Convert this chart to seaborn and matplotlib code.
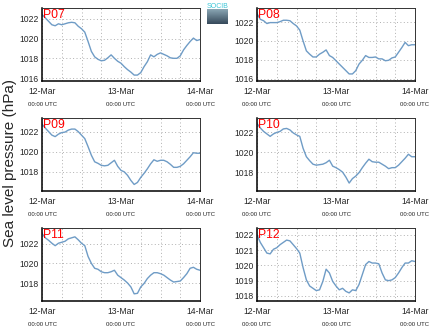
import numpy as np
import pandas as pd
import matplotlib
matplotlib.use("Agg")
import matplotlib.pyplot as plt
import matplotlib.dates as mdates
from matplotlib.ticker import MultipleLocator
import seaborn as sns

# ---- data (hourly sea level pressure, hPa) ----
times = pd.date_range("2013-03-12 00:00", "2013-03-14 00:00", freq="1h")

stations = ["P07", "P08", "P09", "P10", "P11", "P12"]

p07 = [1022.45, 1022.1, 1021.75, 1021.4, 1021.3, 1021.5, 1021.4, 1021.5, 1021.6, 1021.65,
       1021.6, 1021.25, 1021.0, 1020.65, 1019.7, 1018.7, 1018.15, 1017.9, 1017.75, 1017.8,
       1018.05, 1018.35, 1018.0, 1017.7, 1017.5, 1017.15, 1016.85, 1016.6, 1016.3, 1016.3,
       1016.55, 1017.15, 1017.65, 1018.35, 1018.15, 1018.4, 1018.55, 1018.4, 1018.25, 1018.05,
       1018.0, 1018.0, 1018.25, 1018.85, 1019.3, 1019.7, 1020.05, 1019.8, 1019.9]
p08 = [1022.9, 1022.3, 1022.15, 1021.85, 1021.95, 1021.95, 1021.95, 1022.05, 1022.2, 1022.2,
       1022.15, 1021.85, 1021.6, 1021.15, 1020.0, 1018.95, 1018.6, 1018.3, 1018.3, 1018.6,
       1018.8, 1019.05, 1018.45, 1018.25, 1017.9, 1017.55, 1017.2, 1016.85, 1016.5, 1016.5,
       1016.85, 1017.55, 1017.95, 1018.45, 1018.25, 1018.25, 1018.3, 1018.1, 1018.1, 1017.9,
       1017.95, 1018.2, 1018.3, 1018.8, 1019.3, 1019.85, 1019.5, 1019.6, 1019.6]
p09 = [1022.75, 1022.35, 1022.0, 1021.65, 1021.5, 1021.75, 1021.9, 1021.95, 1022.15, 1022.25,
       1022.25, 1022.0, 1021.65, 1021.3, 1020.5, 1019.65, 1019.0, 1018.85, 1018.65, 1018.6,
       1018.65, 1018.9, 1019.15, 1018.55, 1018.15, 1018.0, 1017.65, 1017.15, 1016.75, 1016.95,
       1017.45, 1017.85, 1018.3, 1018.8, 1019.2, 1019.05, 1019.15, 1019.15, 1019.0, 1018.75,
       1018.45, 1018.45, 1018.55, 1018.8, 1019.15, 1019.5, 1019.9, 1019.85, 1019.85]
p10 = [1022.9, 1022.45, 1022.1, 1021.85, 1021.6, 1021.85, 1022.0, 1022.1, 1022.35, 1022.4,
       1022.25, 1021.95, 1021.75, 1021.6, 1020.4, 1019.55, 1019.15, 1018.8, 1018.7, 1018.75,
       1018.8, 1018.95, 1019.2, 1018.6, 1018.45, 1018.25, 1018.0, 1017.5, 1016.9, 1017.35,
       1017.6, 1017.95, 1018.45, 1018.9, 1019.3, 1019.05, 1019.0, 1019.0, 1018.8, 1018.6,
       1018.35, 1018.45, 1018.45, 1018.7, 1019.05, 1019.4, 1019.8, 1019.55, 1019.55]
p11 = [1023.05, 1022.6, 1022.35, 1022.05, 1021.8, 1022.05, 1022.15, 1022.25, 1022.5, 1022.6,
       1022.7, 1022.4, 1022.05, 1021.8, 1020.7, 1020.0, 1019.5, 1019.4, 1019.15, 1019.05,
       1019.05, 1019.15, 1019.3, 1018.8, 1018.55, 1018.3, 1018.0, 1017.6, 1016.9, 1016.95,
       1017.6, 1017.95, 1018.45, 1018.8, 1019.05, 1019.05, 1018.95, 1018.8, 1018.55, 1018.3,
       1018.1, 1018.15, 1018.2, 1018.55, 1018.95, 1019.5, 1019.6, 1019.4, 1019.3]
p12 = [1022.0, 1021.5, 1021.15, 1020.8, 1020.75, 1021.05, 1021.15, 1021.35, 1021.5, 1021.65,
       1021.6, 1021.35, 1021.1, 1020.8, 1019.85, 1019.05, 1018.65, 1018.5, 1018.35, 1018.4,
       1018.95, 1019.75, 1019.5, 1018.95, 1018.65, 1018.4, 1018.5, 1018.3, 1018.2, 1018.4,
       1018.35, 1018.75, 1019.4, 1020.05, 1020.25, 1020.15, 1020.15, 1020.1, 1019.5, 1019.05,
       1019.0, 1019.05, 1019.2, 1019.5, 1019.85, 1020.15, 1020.15, 1020.3, 1020.25]
series = [p07, p08, p09, p10, p11, p12]

ylims = [(1015.7, 1023.1), (1015.75, 1023.5), (1016.1, 1023.35),
         (1016.1, 1023.45), (1016.17, 1023.6), (1017.67, 1022.44)]
ytick_step = [2, 2, 2, 2, 2, 1]

tick_dates = pd.to_datetime(["2013-03-12", "2013-03-13", "2013-03-14"])
tick_labels = ["12-Mar", "13-Mar", "14-Mar"]
sub_label = "00:00 UTC"
ylabel = "Sea level pressure (hPa)"

# ---- style ----
sns.set_style("white")
plt.rcParams["font.family"] = ["Liberation Sans", "DejaVu Sans"]

W, H = 434, 327
fig = plt.figure(figsize=(W / 100, H / 100), dpi=100)

lefts = [42, 257]
tops = [8, 118, 228]
aw, ah = 158, 73
line_color = "#6f9cc6"

for i, (name, vals) in enumerate(zip(stations, series)):
    r, c = divmod(i, 2)
    ax = fig.add_axes([lefts[c] / W, 1 - (tops[r] + ah) / H, aw / W, ah / H])
    df = pd.DataFrame({"time": times, "slp": vals})
    sns.lineplot(data=df, x="time", y="slp", ax=ax, color=line_color, linewidth=1.0)
    ax.set_xlim(tick_dates[0], tick_dates[-1])
    ax.set_ylim(*ylims[i])
    ax.yaxis.set_major_locator(MultipleLocator(ytick_step[i]))
    ax.set_xticks(tick_dates)
    ax.set_xticklabels(tick_labels)
    ax.xaxis.set_minor_locator(mdates.HourLocator(byhour=[6, 12, 18]))
    ax.grid(True, which="both", axis="x", linestyle=(0, (1, 2.5)), color="#b0b0b0", linewidth=0.7)
    ax.grid(True, which="major", axis="y", linestyle=(0, (1, 2.5)), color="#b0b0b0", linewidth=0.7)
    ax.tick_params(axis="both", which="both", length=0, labelsize=6.2, pad=2.5)
    ax.tick_params(axis="x", pad=4.5)
    ax.set_xlabel("")
    ax.set_ylabel("")
    for s in ["left", "bottom"]:
        ax.spines[s].set_color("black")
        ax.spines[s].set_linewidth(1.1)
    for s in ["top", "right"]:
        ax.spines[s].set_color("#333333")
        ax.spines[s].set_linewidth(0.7)
    for d in tick_dates:
        ax.annotate(sub_label, xy=(d, 0), xycoords=("data", "axes fraction"),
                    xytext=(0, -17), textcoords="offset points",
                    ha="center", va="center", fontsize=4.3, color="#222222")
    ax.text(0.005, 0.99, name, transform=ax.transAxes, ha="left", va="top",
            fontsize=8.8, color="#ff0000")

fig.text(10 / W, 1 - 163 / H, ylabel, rotation=90, ha="center", va="center", fontsize=11)

# logo
lax = fig.add_axes([207 / W, 1 - 24 / H, 21 / W, 15 / H])
grad = np.linspace(0, 1, 50).reshape(-1, 1)
lax.imshow(grad, aspect="auto", cmap=matplotlib.colors.LinearSegmentedColormap.from_list(
    "g", ["#8aa6b4", "#36495a"]))
lax.axis("off")
fig.text(217.5 / W, 1 - 6 / H, "SOCIB", ha="center", va="center", fontsize=5, color="#3cc6d8")

fig.savefig("out.png", dpi=100)
